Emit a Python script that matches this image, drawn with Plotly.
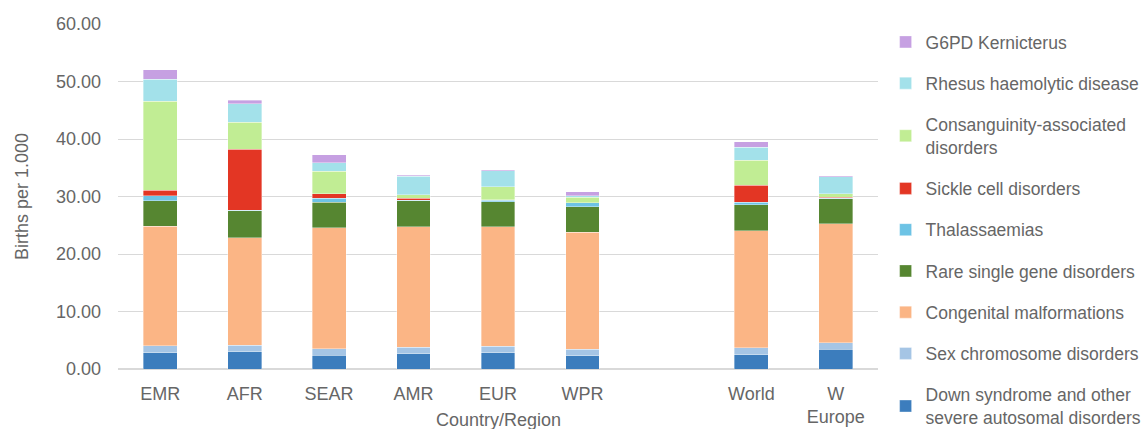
import plotly.graph_objects as go

categories = ["EMR", "AFR", "SEAR", "AMR", "EUR", "WPR", " ", "World", "W<br>Europe"]

down = [2.84, 3.01, 2.38, 2.62, 2.79, 2.27, None, 2.50, 3.43]
sex_chrom = [1.22, 1.10, 1.16, 1.16, 1.16, 1.16, None, 1.16, 1.16]
congenital = [20.81, 18.72, 21.04, 20.93, 20.76, 20.35, None, 20.35, 20.64]
rare_single = [4.41, 4.65, 4.41, 4.53, 4.42, 4.42, None, 4.54, 4.36]
thalassaemias = [0.87, 0.10, 0.75, 0.12, 0.23, 0.70, None, 0.46, 0.10]
sickle = [0.93, 10.67, 0.70, 0.33, 0.05, 0.03, None, 2.97, 0.15]
consanguinity = [15.48, 4.64, 3.94, 0.64, 2.27, 0.93, None, 4.36, 0.64]
rhesus = [3.83, 3.25, 1.45, 3.20, 2.79, 0.23, None, 2.26, 2.96]
g6pd = [1.68, 0.64, 1.39, 0.17, 0.17, 0.70, None, 0.88, 0.17]

series_names = [
    "Down syndrome and other<br>severe autosomal disorders",
    "Sex chromosome disorders",
    "Congenital malformations",
    "Rare single gene disorders",
    "Thalassaemias",
    "Sickle cell disorders",
    "Consanguinity-associated<br>disorders",
    "Rhesus haemolytic disease",
    "G6PD Kernicterus",
]
series_values = [down, sex_chrom, congenital, rare_single, thalassaemias,
                 sickle, consanguinity, rhesus, g6pd]
series_colors = ["#3C7DBD", "#A5C5E5", "#FBB585", "#568631", "#6DC3E5",
                 "#E33624", "#C1ED94", "#A3E1EA", "#C6A0E2"]

fig = go.Figure()
n = len(series_names)
for i, (name, vals, col) in enumerate(zip(series_names, series_values, series_colors)):
    fig.add_trace(go.Bar(
        x=categories, y=vals, name=name, legendgroup=str(i),
        legendrank=1000 + (n - i),
        marker=dict(color=col, line=dict(color="rgba(255,255,255,0.6)", width=0.6)),
    ))

grey = "#666666"
fig.update_layout(
    barmode="stack",
    bargap=0.6,
    width=1145, height=429,
    margin=dict(l=118, r=267, t=24, b=60, autoexpand=False),
    paper_bgcolor="white", plot_bgcolor="white",
    font=dict(family="Liberation Sans, Arial, sans-serif", size=18, color=grey),
    legend=dict(
        x=1.010, xanchor="left", y=1.0, yanchor="top",
        traceorder="grouped", tracegroupgap=15.5,
        font=dict(size=17.5, color=grey), itemwidth=30,
        bgcolor="rgba(0,0,0,0)", maxheight=428,
    ),
    xaxis=dict(
        type="category", categoryorder="array", categoryarray=categories,
        showgrid=False, showline=True, linecolor="#D9D9D9", linewidth=1,
        ticks="", ticklabelstandoff=8, tickfont=dict(size=18, color=grey),
        automargin=False,
    ),
    yaxis=dict(
        range=[0, 60], dtick=10, tickformat=".2f",
        showgrid=True, gridcolor="#D9D9D9", gridwidth=1,
        zeroline=True, zerolinecolor="#D9D9D9",
        ticks="", ticklabelstandoff=16, tickfont=dict(size=18, color=grey),
        title=dict(text="Births per 1.000", font=dict(size=18, color=grey), standoff=22),
        automargin=False,
    ),
    annotations=[dict(
        text="Country/Region", xref="paper", yref="paper",
        x=0.5, y=-0.148, xanchor="center", yanchor="middle", showarrow=False,
        font=dict(size=18, color=grey),
    )],
)

fig.write_html("out.html")
